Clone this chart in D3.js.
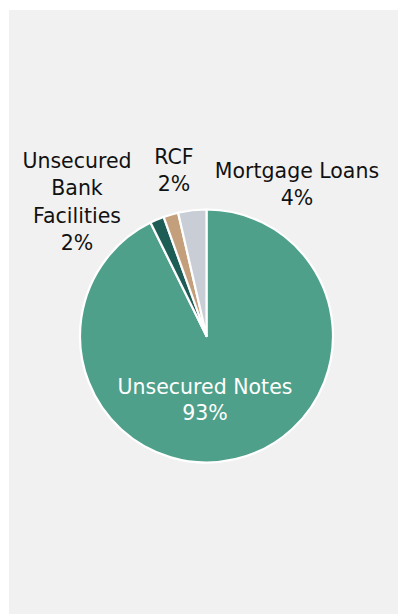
<!DOCTYPE html>
<html>
<head>
<meta charset="utf-8">
<script src="https://cdn.jsdelivr.net/npm/d3@7"></script>
<style>
  html, body { margin: 0; padding: 0; background: #ffffff; }
  svg { display: block; }
  text { font-family: "DejaVu Sans", sans-serif; }
</style>
</head>
<body>
<svg id="chart" width="398" height="614"></svg>
<script>
// Debt mix by instrument (% of total)
const categories = ["Unsecured Notes", "Unsecured Bank Facilities", "RCF", "Mortgage Loans"];
const shares = [92.7, 1.8, 1.9, 3.6];
const labelLines = [["Unsecured Notes"], ["Unsecured", "Bank", "Facilities"], ["RCF"], ["Mortgage Loans"]];

const colors = ["#4ea08a", "#1e5c56", "#c49f7c", "#c9cdd5"];
const textColors = ["#ffffff", "#111111", "#111111", "#111111"];

const W = 398, H = 614;
const cx = 206.5, cy = 336, R = 126.5;
const fontSize = 20.5, lineH = 27.5;

// label anchors (x = text centre, y = baseline of first line)
const labelPos = [
  { x: 205, y: 394 },
  { x: 77, y: 167.5 },
  { x: 174, y: 163.5 },
  { x: 297, y: 177.5 }
];

const svg = d3.select("#chart");

// panel background
svg.append("rect")
  .attr("x", 9).attr("y", 10)
  .attr("width", W - 9).attr("height", H - 10)
  .attr("fill", "#f1f1f1");

const data = categories.map((c, i) => ({ name: c, value: shares[i], i }));

const pie = d3.pie()
  .value(d => d.value)
  .sort(null)
  .startAngle(0)
  .endAngle(2 * Math.PI);

const arc = d3.arc().innerRadius(0).outerRadius(R);

const g = svg.append("g").attr("transform", `translate(${cx},${cy})`);

g.selectAll("path.slice")
  .data(pie(data))
  .join("path")
  .attr("class", "slice")
  .attr("d", arc)
  .attr("fill", d => colors[d.data.i])
  .attr("stroke", "#ffffff")
  .attr("stroke-width", 2.2)
  .attr("stroke-linejoin", "round");

// labels: name lines + rounded percentage
const labels = svg.selectAll("text.lbl")
  .data(data)
  .join("text")
  .attr("class", "lbl")
  .attr("text-anchor", "middle")
  .attr("font-size", fontSize)
  .attr("fill", d => textColors[d.i]);

labels.each(function (d) {
  const t = d3.select(this);
  const p = labelPos[d.i];
  const lines = labelLines[d.i].concat([Math.round(d.value) + "%"]);
  lines.forEach((ln, k) => {
    t.append("tspan")
      .attr("x", p.x)
      .attr("y", p.y + k * (d.i === 0 ? 26 : lineH))
      .text(ln);
  });
});
</script>
</body>
</html>
